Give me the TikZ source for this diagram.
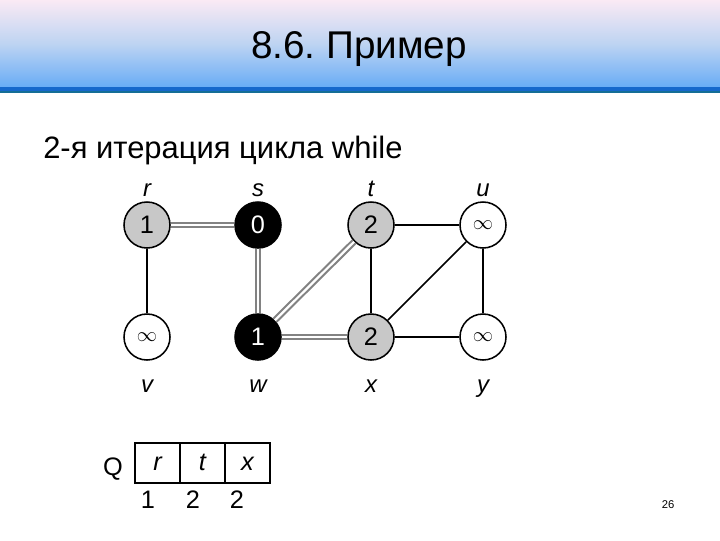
\documentclass[tikz,border=0pt]{standalone}
\usepackage{fontspec}
\setmainfont{Liberation Sans}
\usetikzlibrary{positioning}
\frenchspacing

\definecolor{bandtop}{RGB}{250,234,244}
\definecolor{bandmid}{RGB}{190,212,242}
\definecolor{bandbot}{RGB}{104,172,246}
\definecolor{bandline}{RGB}{22,104,204}
\definecolor{bandedge}{RGB}{20,110,150}
\definecolor{visited}{RGB}{200,200,200}
\definecolor{treeedge}{RGB}{130,130,130}

\begin{document}
\begin{tikzpicture}[x=0.025cm, y=-0.025cm,
      vx/.style={draw, circle, line width=1.1pt, minimum size=46*0.025cm, inner sep=0pt, font=\fontsize{18}{18}\selectfont},
      white/.style={vx, fill=white, font=\fontsize{14.5}{14.5}\selectfont},
      grey/.style={vx, fill=visited},
      black/.style={vx, fill=black, text=white},
      lbl/.style={anchor=base, font=\fontsize{17}{17}\selectfont\itshape},
      ed/.style={line width=1.1pt},
      tree/.style={draw=treeedge, line width=1.5pt, double=white, double distance=1.6pt},
      cell/.style={draw, line width=1pt, minimum width=45*0.025cm, minimum height=40*0.025cm, inner sep=0pt, text height=1em, text depth=0em, font=\fontsize{18}{18}\selectfont\itshape},
      num/.style={anchor=base, font=\fontsize{18}{18}\selectfont}]
  \useasboundingbox (0,0) rectangle (720,540);
  % title band
  \shade[top color=bandtop, bottom color=bandbot, middle color=bandmid] (0,0) rectangle (720,87);
  \fill[bandline] (0,87) rectangle (720,91);
  \fill[bandedge] (0,91) rectangle (720,93);
  \node[anchor=base, font=\fontsize{27.5}{27.5}\selectfont] (title) at (359,58) {8.6. Пример};
  \node[anchor=base west, inner sep=0pt, font=\fontsize{22}{22}\selectfont] (sub) at (43,158) {2-я итерация цикла while};

  % vertices
  \node[grey]  (r) at (147,225) {1};
  \node[black] (s) at (258,225) {0};
  \node[grey]  (t) at (371,225) {2};
  \node[white] (u) at (483,225) {$\infty$};
  \node[white] (v) at (147,337) {$\infty$};
  \node[black] (w) at (258,337) {1};
  \node[grey]  (x) at (371,337) {2};
  \node[white] (y) at (483,337) {$\infty$};

  \node[lbl] (lr) at (147,196) {r};
  \node[lbl] (ls) at (258,196) {s};
  \node[lbl] (lt) at (371,196) {t};
  \node[lbl] (lu) at (483,196) {u};
  \node[lbl] (lv) at (147,392) {v};
  \node[lbl] (lw) at (258,392) {w};
  \node[lbl] (lx) at (371,392) {x};
  \node[lbl] (ly) at (483,392) {y};

  % edges
  \draw[ed] (r) -- (v);
  \draw[ed] (t) -- (u);
  \draw[ed] (t) -- (x);
  \draw[ed] (x) -- (u);
  \draw[ed] (u) -- (y);
  \draw[ed] (x) -- (y);
  \draw[tree] (r) -- (s);
  \draw[tree] (s) -- (w);
  \draw[tree] (w) -- (t);
  \draw[tree] (w) -- (x);

  % queue
  \node[cell] (q1) at (157.5,463) {r};
  \node[cell] (q2) at (202.5,463) {t};
  \node[cell] (q3) at (247.5,463) {x};
  \node[num] (qlab) at (113,475) {Q};
  \node[num] (d1) at (148,508) {1};
  \node[num] (d2) at (193,508) {2};
  \node[num] (d3) at (237,508) {2};

  \node[font=\fontsize{8}{8}\selectfont] (page) at (668,505) {26};
\end{tikzpicture}
\end{document}
